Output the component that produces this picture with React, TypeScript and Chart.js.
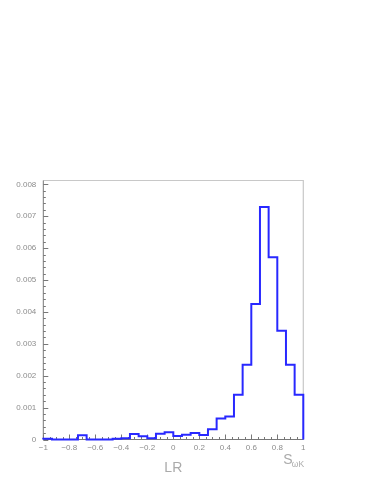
import React, { useEffect, useRef } from 'react';
import { Chart, registerables } from 'chart.js';

Chart.register(...registerables);

// ---- data ----
const X_MIN = -1;
const X_MAX = 1;
const Y_MAX = 0.00812;
const binValues = [
  0.00002, 0, 0, 0, 0.00013, 0, 0, 0, 0.00002, 0.00004,
  0.00017, 0.0001, 0.00004, 0.00018, 0.00023, 0.00011, 0.00015, 0.0002, 0.00014, 0.00032,
  0.00066, 0.00072, 0.0014, 0.00234, 0.00425, 0.00729, 0.00571, 0.00341, 0.00234, 0.0014,
];
const xMajorTicks = [-1, -0.8, -0.6, -0.4, -0.2, 0, 0.2, 0.4, 0.6, 0.8, 1];
const yMajorTicks = [0, 0.001, 0.002, 0.003, 0.004, 0.005, 0.006, 0.007, 0.008];
const xMinorStep = 0.05;
const yMinorStep = 0.0002;
const xTitle = 'LR';
const xTitleRight = 'S';
const xTitleRightSub = 'ωK';

function buildSteps() {
  const n = binValues.length;
  const w = (X_MAX - X_MIN) / n;
  const pts: { x: number; y: number }[] = [{ x: X_MIN, y: 0 }];
  binValues.forEach((v, i) => pts.push({ x: X_MIN + i * w, y: v }));
  pts.push({ x: X_MAX, y: binValues[n - 1] });
  pts.push({ x: X_MAX, y: 0 });
  return pts;
}

const fmt = (v: number, digits: number) => {
  if (Math.abs(v) < 1e-12) return '0';
  let s = parseFloat(v.toFixed(digits)).toString();
  return s.replace('-', '\u2212');
};

const framePlugin = {
  id: 'frame',
  beforeDatasetsDraw(chart: any) {
    const { ctx, chartArea: a, scales } = chart;
    const xs = scales.x;
    const ys = scales.y;
    ctx.save();
    ctx.strokeStyle = '#c8c8c8';
    ctx.lineWidth = 1.2;
    ctx.beginPath();
    ctx.moveTo(a.left, a.top);
    ctx.lineTo(a.right, a.top);
    ctx.lineTo(a.right, a.bottom);
    ctx.stroke();
    ctx.strokeStyle = '#777';
    ctx.lineWidth = 1;
    ctx.beginPath();
    ctx.moveTo(a.left, a.top);
    ctx.lineTo(a.left, a.bottom);
    ctx.lineTo(a.right, a.bottom);
    ctx.stroke();
    ctx.beginPath();
    for (let k = 0; k * yMinorStep <= Y_MAX + 1e-12; k++) {
      const v = k * yMinorStep;
      const major = k % 5 === 0;
      const py = Math.round(ys.getPixelForValue(v)) + 0.5;
      ctx.moveTo(a.left, py);
      ctx.lineTo(a.left + (major ? 5 : 2.5), py);
    }
    for (let k = 0; X_MIN + k * xMinorStep <= X_MAX + 1e-9; k++) {
      const v = X_MIN + k * xMinorStep;
      const major = k % 4 === 0;
      const px = Math.round(xs.getPixelForValue(v)) + 0.5;
      ctx.moveTo(px, a.bottom);
      ctx.lineTo(px, a.bottom - (major ? 5 : 2.5));
    }
    ctx.stroke();
    ctx.restore();
  },
  afterDraw(chart: any) {
    const { ctx, chartArea: a } = chart;
    ctx.save();
    ctx.fillStyle = '#aaaaaa';
    ctx.textBaseline = 'alphabetic';
    ctx.font = '14px "Liberation Sans", Arial, sans-serif';
    ctx.textAlign = 'center';
    ctx.fillText(xTitle, (a.left + a.right) / 2, a.bottom + 32);
    ctx.textAlign = 'left';
    ctx.font = '14px "Liberation Sans", Arial, sans-serif';
    ctx.fillText(xTitleRight, a.right - 20, a.bottom + 24.5);
    ctx.font = '8.5px "Liberation Sans", Arial, sans-serif';
    ctx.fillText(xTitleRightSub, a.right - 11.5, a.bottom + 27.5);
    ctx.restore();
  },
};

export default function App() {
  const ref = useRef<HTMLCanvasElement | null>(null);
  useEffect(() => {
    if (!ref.current) return;
    const chart = new Chart(ref.current, {
      type: 'line',
      data: {
        datasets: [
          {
            data: buildSteps(),
            borderColor: 'rgb(40,40,255)',
            borderWidth: 2,
            pointRadius: 0,
            stepped: 'before',
            fill: false,
            clip: 4,
          } as any,
        ],
      },
      options: {
        animation: false,
        responsive: false,
        maintainAspectRatio: false,
        devicePixelRatio: 1,
        layout: { padding: { top: 180.5, right: 70.7, left: 0, bottom: 0 } },
        plugins: { legend: { display: false }, tooltip: { enabled: false } },
        scales: {
          x: {
            type: 'linear',
            min: X_MIN,
            max: X_MAX,
            border: { display: false },
            grid: { display: false, drawTicks: false },
            afterBuildTicks: (s: any) => {
              s.ticks = xMajorTicks.map((v) => ({ value: v }));
            },
            afterFit: (s: any) => {
              s.height = 44.5;
            },
            ticks: {
              padding: 3,
              maxRotation: 0,
              autoSkip: false,
              color: '#8c8c8c',
              font: { family: '"Liberation Sans", Arial, sans-serif', size: 8 },
              callback: (v: any) => fmt(Number(v), 2),
            },
          },
          y: {
            type: 'linear',
            min: 0,
            max: Y_MAX,
            border: { display: false },
            grid: { display: false, drawTicks: false },
            afterBuildTicks: (s: any) => {
              s.ticks = yMajorTicks.map((v) => ({ value: v }));
            },
            afterFit: (s: any) => {
              s.width = 43.3;
            },
            ticks: {
              padding: 7,
              autoSkip: false,
              color: '#8c8c8c',
              font: { family: '"Liberation Sans", Arial, sans-serif', size: 8 },
              callback: (v: any) => fmt(Number(v), 3),
            },
          },
        },
      },
      plugins: [framePlugin],
    });
    return () => chart.destroy();
  }, []);
  return (
    <div style={{ position: 'absolute', left: 0, top: 0, width: 374, height: 484, background: '#fff' }}>
      <canvas ref={ref} width={374} height={484} style={{ width: 374, height: 484 }} />
    </div>
  );
}
